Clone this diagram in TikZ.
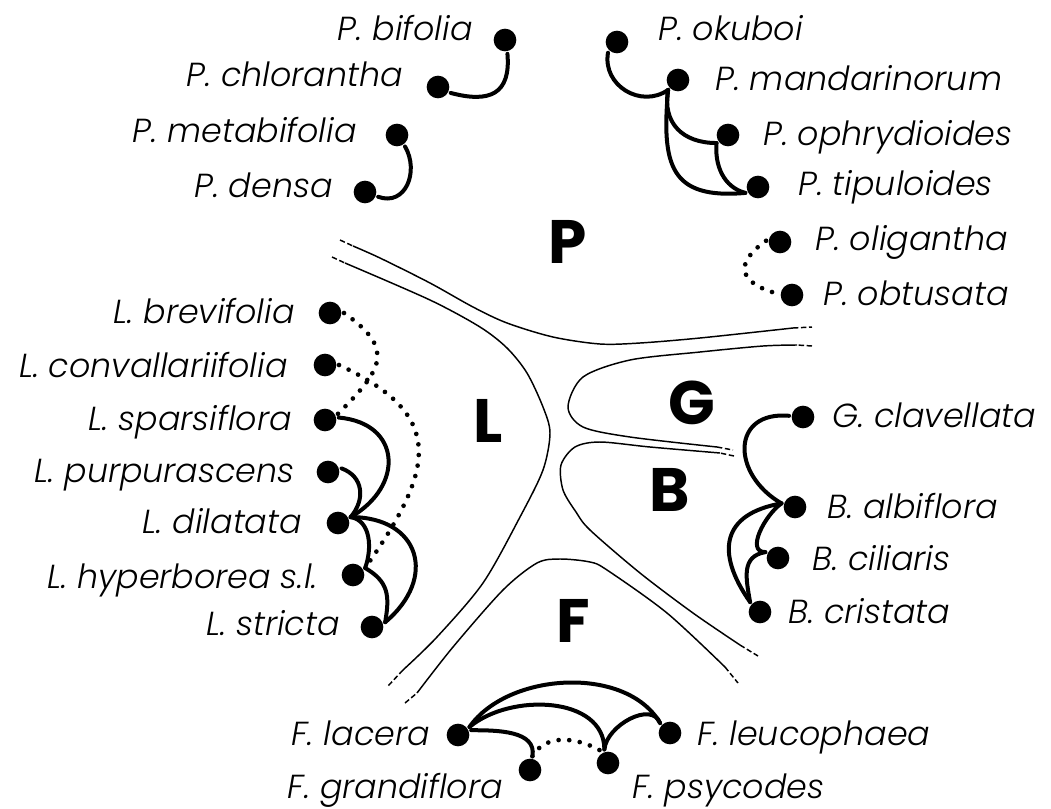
\documentclass[tikz,border=0pt]{standalone}
\usepackage{fontspec}
\IfFontExistsTF{Poppins Light Italic}
  {\newfontfamily\spfont{Poppins}[UprightFont=* Light,ItalicFont=* Light Italic,BoldFont=* Bold]}
  {\newfontfamily\spfont{Poppins}}
\begin{document}
\begin{tikzpicture}[x=0.75pt,y=-0.75pt,
        sp/.style={circle,fill,inner sep=0pt,minimum size=17pt,outer sep=2pt},
        tx/.style={font=\spfont\itshape\fontsize{25}{29}\selectfont,inner sep=0pt},
        grp/.style={font=\spfont\bfseries\fontsize{46}{50}\selectfont,inner sep=0pt},
        link/.style={line width=3pt,line cap=round},
        weak/.style={line width=3.5pt,line cap=round,dash pattern=on 0pt off 8pt},
        border/.style={line width=1.1pt},
        borderend/.style={line width=1.1pt,dash pattern=on 4pt off 2pt}]
        \useasboundingbox (0,0) rectangle (1051,808);

        \draw[borderend] (340,240) -- (353,246);
        \draw[border] plot[smooth] coordinates {(353,246) (380,258) (430,283) (473,307) (507,323) (553,337) (600,344) (640,343) (700,338) (793,328)};
        \draw[borderend] (793,328) -- (812,327);

        \draw[borderend] (332,257) -- (345,263);
        \draw[border] plot[smooth] coordinates {(345,263) (430,300) (480,327) (507,348) (527,373) (543,407) (550,433) (543,470) (520,517) (483,583) (437,637) (403,670)};
        \draw[borderend] (403,670) -- (388,686);

        \draw[borderend] (812,346) -- (797,345);
        \draw[border] plot[smooth] coordinates {(797,345) (763,346) (700,352) (630,360) (583,377) (568,407) (583,427) (630,437) (717,447)};
        \draw[borderend] (717,447) -- (733,450);

        \draw[borderend] (734,456) -- (720,453);
        \draw[border] plot[smooth] coordinates {(720,453) (650,447) (600,442) (575,447) (561,465) (563,490) (576,512) (590,530) (640,573) (693,613) (740,645)};
        \draw[borderend] (740,645) -- (758,656);

        \draw[borderend] (405,703) -- (417,693);
        \draw[border] plot[smooth] coordinates {(417,693) (453,647) (503,590) (537,563) (560,559) (590,562) (607,570) (667,613) (725,667)};
        \draw[borderend] (725,667) -- (738,683);

        \node[grp] (gP) at (568,242) {P};
        \node[grp] (gL) at (488,421) {L};
        \node[grp] (gG) at (692,403) {G};
        \node[grp] (gB) at (670,490) {B};
        \node[grp] (gF) at (573,621) {F};

        \node[sp] (bif) at (505,40) {};
        \node[sp] (chl) at (438,87) {};
        \node[sp] (met) at (397,135) {};
        \node[sp] (den) at (365,192) {};
        \node[sp] (oku) at (617,42) {};
        \node[sp] (man) at (678,80) {};
        \node[sp] (oph) at (728,135) {};
        \node[sp] (tip) at (758,187) {};
        \node[sp] (oli) at (780,242) {};
        \node[sp] (obt) at (792,295) {};
        \node[sp] (bre) at (330,313) {};
        \node[sp] (con) at (325,365) {};
        \node[sp] (spa) at (325,420) {};
        \node[sp] (pur) at (328,472) {};
        \node[sp] (dil) at (338,523) {};
        \node[sp] (hyp) at (353,575) {};
        \node[sp] (str) at (372,627) {};
        \node[sp] (cla) at (803,417) {};
        \node[sp] (alb) at (795,507) {};
        \node[sp] (cil) at (778,558) {};
        \node[sp] (cri) at (760,612) {};
        \node[sp] (lac) at (458,735) {};
        \node[sp] (gra) at (530,770) {};
        \node[sp] (psy) at (608,763) {};
        \node[sp] (leu) at (670,733) {};

        \node[tx,anchor=base east] (tbif) at (473,40) {P. bifolia};
        \node[tx,anchor=base east] (tchl) at (403,86) {P. chlorantha};
        \node[tx,anchor=base east] (tmet) at (357,142) {P. metabifolia};
        \node[tx,anchor=base east] (tden) at (333,197) {P. densa};
        \node[tx,anchor=base west] (toku) at (658,40) {P. okuboi};
        \node[tx,anchor=base west] (tman) at (715,90) {P. mandarinorum};
        \node[tx,anchor=base west] (toph) at (763,145) {P. ophrydioides};
        \node[tx,anchor=base west] (ttip) at (798,195) {P. tipuloides};
        \node[tx,anchor=base west] (toli) at (815,250) {P. oligantha};
        \node[tx,anchor=base west] (tobt) at (823,305) {P. obtusata};
        \node[tx,anchor=base east] (tbre) at (295,323) {L. brevifolia};
        \node[tx,anchor=base east] (tcon) at (288,377) {L. convallariifolia};
        \node[tx,anchor=base east] (tspa) at (292,430) {L. sparsiflora};
        \node[tx,anchor=base east] (tpur) at (295,482) {L. purpurascens};
        \node[tx,anchor=base east] (tdil) at (302,533) {L. dilatata};
        \node[tx,anchor=base east] (thyp) at (318,588) {L. hyperborea s.l.};
        \node[tx,anchor=base east] (tstr) at (340,635) {L. stricta};
        \node[tx,anchor=base west] (tcla) at (832,427) {G. clavellata};
        \node[tx,anchor=base west] (talb) at (827,518) {B. albiflora};
        \node[tx,anchor=base west] (tcil) at (812,570) {B. ciliaris};
        \node[tx,anchor=base west] (tcri) at (788,623) {B. cristata};
        \node[tx,anchor=base east] (tlac) at (430,745) {F. lacera};
        \node[tx,anchor=base east] (tgra) at (503,798) {F. grandiflora};
        \node[tx,anchor=base west] (tpsy) at (632,798) {F. psycodes};
        \node[tx,anchor=base west] (tleu) at (697,745) {F. leucophaea};

        \draw[link] (bif.-80) to[out=-85,in=-15,looseness=1.5] (chl.-25);
        \draw[link] (met.-55) to[out=-60,in=-20,looseness=1.3] (den.-20);

        \draw[link] (oku.-130) to[out=-100,in=-145,looseness=1.2] (man.-135);
        \draw[link] (man.-135) to[out=-100,in=180,looseness=1.2] (oph.-145);
        \draw[link] (oph.-145) to[out=-95,in=165] (tip.-155);
        \draw[link] (man.-135) to[out=-95,in=185,looseness=1.5] (tip.-155);
        \draw[weak] (oli.175) to[out=215,in=165,looseness=1.9] (obt.175);

        \draw[weak] (bre.0) to[out=-35,in=45,looseness=1.6] (spa.25);
        \draw[weak] (con.0) to[out=-25,in=55,looseness=1.5] (hyp.30);
        \draw[link] (spa.10) to[out=-5,in=30,looseness=1.6] (dil.25);
        \draw[link] (pur.15) to[out=-20,in=50,looseness=1.2] (dil.25);
        \draw[link] (dil.25) to[out=0,in=40,looseness=1.6] (str.20);
        \draw[link] (dil.25) to[out=-10,in=70] (hyp.30);
        \draw[link] (hyp.30) to[out=-30,in=80,looseness=1.2] (str.20);

        \draw[link] (cla.175) to[out=175,in=150,looseness=1.7] (alb.165);
        \draw[link] (alb.165) to[out=190,in=125,looseness=1.5] (cri.135);
        \draw[link] (alb.165) to[out=215,in=180] (cil.155);
        \draw[link] (cil.155) to[out=190,in=100,looseness=1.2] (cri.135);

        \draw[link] (lac.35) to[out=55,in=120,looseness=0.9] (leu.135);
        \draw[link] (lac.35) to[out=40,in=90] (psy.105);
        \draw[link] (psy.105) to[out=85,in=110] (leu.135);
        \draw[link] (lac.20) to[out=0,in=80] (gra.80);
        \draw[weak] (gra.80) to[out=60,in=150] (psy.120);
    \end{tikzpicture}
\end{document}
